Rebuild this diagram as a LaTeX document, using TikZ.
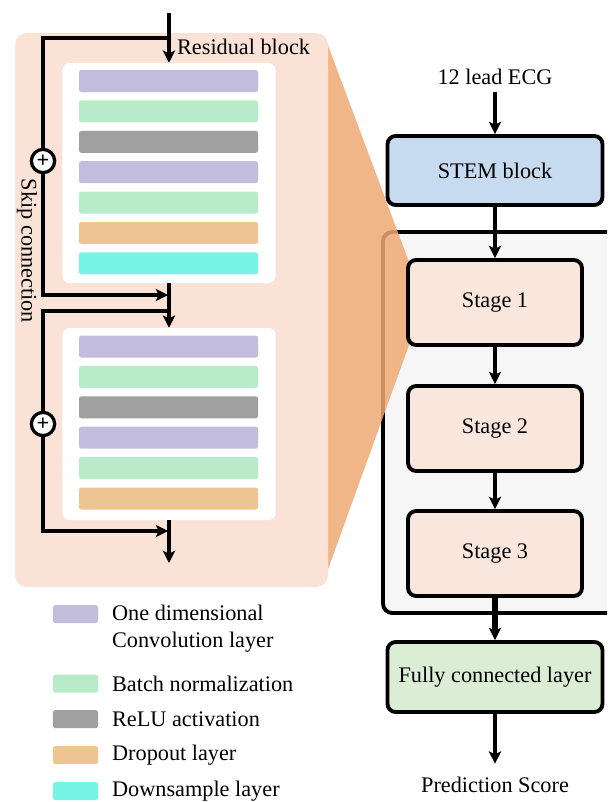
\documentclass[tikz,border=0pt]{standalone}
\usepackage{fontspec}
\setmainfont{Liberation Serif}
\usetikzlibrary{arrows.meta}

\definecolor{panelpeach}{HTML}{FAE3D6}
\definecolor{funnelorange}{HTML}{EFA972}
\definecolor{panelgray}{HTML}{F6F6F6}
\definecolor{stemblue}{HTML}{C6DBF0}
\definecolor{stagepeach}{HTML}{F9E7DE}
\definecolor{fcgreen}{HTML}{DCEDD6}
\definecolor{convlayer}{HTML}{C2BCDD}
\definecolor{normlayer}{HTML}{B9EBCB}
\definecolor{relulayer}{HTML}{A0A0A0}
\definecolor{droplayer}{HTML}{EDC592}
\definecolor{downlayer}{HTML}{76F5E6}

\begin{document}
\begin{tikzpicture}[
    x=0.03cm,
    y=-0.03cm,
    >={Stealth[length=10.5pt,width=10.5pt,inset=2.5pt]},
    font=\fontsize{19}{23}\selectfont,
    flow/.style={line width=3.6pt,->},
    skip/.style={line width=3pt},
    block/.style={fill=white,rounded corners=6pt,minimum width=6.39cm,inner sep=0pt},
    layer/.style={rounded corners=2pt},
    adder/.style={draw,circle,fill=white,line width=2.8pt,minimum size=0.7cm,
        inner sep=0pt,font=\fontsize{19}{19}\bfseries},
    box/.style={draw,line width=3.3pt,rounded corners=7pt},
    stagebox/.style={box,fill=stagepeach,minimum width=5.22cm,minimum height=2.55cm},
    swatch/.style={rounded corners=1.5pt,minimum width=1.35cm,minimum height=0.54cm,inner sep=0pt}
]
    \useasboundingbox (0,0) rectangle (607,802);
    \clip (0,0) rectangle (607,802);

    % Stages container and zoom funnel
    \draw[line width=3.3pt,fill=panelgray,rounded corners=8pt] (383,232) rectangle (640,613);
    \fill[funnelorange,opacity=0.85] (326,40) -- (409,262) -- (409,345) -- (326,575) -- cycle;

    % Residual block panel
    \fill[panelpeach,rounded corners=10pt] (15,33) rectangle (328,587);
    \node[block,minimum height=6.6cm] (blk1) at (169,173) {};
    \node[block,minimum height=5.76cm] (blk2) at (169,424) {};
    \foreach \c [count=\i] in {convlayer,normlayer,relulayer,convlayer,normlayer,droplayer,downlayer}{
        \fill[\c,layer] (79,{70+(\i-1)*30.4}) rectangle +(179,22);
    }
    \foreach \c [count=\i] in {convlayer,normlayer,relulayer,convlayer,normlayer,droplayer}{
        \fill[\c,layer] (79,{335.5+(\i-1)*30.4}) rectangle +(179,22);
    }
    \node[anchor=west] (reslbl) at (173,47) {Residual block};
    \node[rotate=-90] (skiplbl) at (27,251) {Skip connection};

    \coordinate (in) at (169,13);
    \coordinate (s1) at (169,38);
    \coordinate (j1) at (168,295);
    \coordinate (s2) at (169,311);
    \coordinate (j2) at (168,531);
    \coordinate (out) at (169,563);
    \node[adder] (add1) at (43,161) {+};
    \node[adder] (add2) at (43,424) {+};

    \draw[flow] (in) -- (blk1.north);
    \draw[skip] (s1) -| (add1);
    \draw[skip,->] (add1) |- (j1);
    \draw[flow] (blk1) -- (blk2);
    \draw[skip] (s2) -| (add2);
    \draw[skip,->] (add2) |- (j2);
    \draw[flow] (blk2) -- (out);

    % Network
    \node (ecg) at (495,77) {12 lead ECG};
    \node[box,fill=stemblue,minimum width=6.45cm,minimum height=2.07cm] (stem) at (495,170.5) {STEM block};
    \node[stagebox] (st1) at (495,302.5) {Stage 1};
    \node[stagebox] (st2) at (495,428.5) {Stage 2};
    \node[stagebox] (st3) at (495,553.5) {Stage 3};
    \node[box,fill=fcgreen,minimum width=6.45cm,minimum height=2.1cm,inner sep=2pt] (fc) at (495,677) {Fully connected layer};
    \node (pred) at (495,785) {Prediction Score};

    \draw[flow,shorten <=3pt] (ecg) -- (stem);
    \draw[flow] (stem) -- (st1);
    \draw[flow] (st1) -- (st2);
    \draw[flow] (st2) -- (st3);
    \draw[flow,line width=4.4pt] (st3) -- (fc);
    \draw[flow,shorten >=8pt] (fc) -- (pred);

    % Legend
    \foreach \c/\y [count=\i] in {convlayer/614,normlayer/683.5,relulayer/719,droplayer/755,downlayer/791}{
        \node[swatch,fill=\c] (key\i) at (75.5,\y) {};
    }
    \node[anchor=west,align=left] (txt1) at (108,628.5) {One dimensional\\Convolution layer};
    \node[anchor=west] (txt2) at (108,683.5) {Batch normalization};
    \node[anchor=west] (txt3) at (108,719) {ReLU activation};
    \node[anchor=west] (txt4) at (108,755) {Dropout layer};
    \node[anchor=west] (txt5) at (108,791) {Downsample layer};
\end{tikzpicture}
\end{document}
